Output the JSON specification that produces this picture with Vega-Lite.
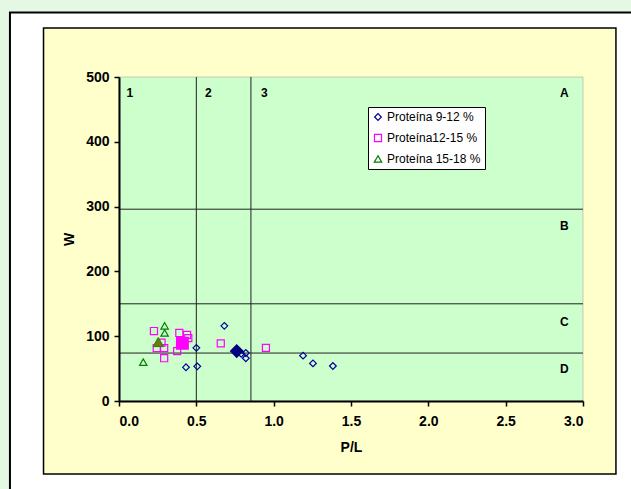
{
  "$schema": "https://vega.github.io/schema/vega-lite/v6.json",
  "width": 464,
  "height": 324,
  "autosize": {"type": "none"},
  "padding": {"left": 119, "top": 77, "right": 48, "bottom": 88},
  "background": "#E4F8E4",
  "config": {
    "view": {"stroke": null},
    "font": "Liberation Sans",
    "axis": {
      "domainColor": "black", "domainWidth": 2, "tickColor": "black", "tickWidth": 1.5, "tickSize": 5,
      "labelFont": "Liberation Sans", "labelFontWeight": "bold", "labelFontSize": 14, "labelColor": "black",
      "titleFont": "Liberation Sans", "titleFontWeight": "bold", "titleFontSize": 14, "titleColor": "black",
      "grid": false, "zindex": 1
    },
    "legend": {
      "fillColor": "white", "strokeColor": "black", "padding": 4,
      "labelFont": "Liberation Sans", "labelFontSize": 12, "labelColor": "black",
      "symbolStrokeWidth": 1.2, "symbolSize": 30, "rowPadding": 9, "labelOffset": 3
    }
  },
  "datasets": {
    "marcos": [{"nombre": "pagina", "x0": -0.705, "x1": 4, "y0": 599.5, "y1": -300},
               {"nombre": "caja", "x0": -0.488, "x1": 3.213, "y0": 575.6, "y1": -112.7},
               {"nombre": "grafico", "x0": 0, "x1": 3, "y0": 500, "y1": 0}],
    "puntos": [
      {"serie": "Proteína 9-12 %", "pl": 0.681, "w": 116},
      {"serie": "Proteína 9-12 %", "pl": 0.5, "w": 82},
      {"serie": "Proteína 9-12 %", "pl": 0.433, "w": 52},
      {"serie": "Proteína 9-12 %", "pl": 0.506, "w": 53.5},
      {"serie": "Proteína 9-12 %", "pl": 0.79, "w": 73},
      {"serie": "Proteína 9-12 %", "pl": 0.82, "w": 74},
      {"serie": "Proteína 9-12 %", "pl": 0.82, "w": 66},
      {"serie": "Proteína 9-12 %", "pl": 1.19, "w": 70},
      {"serie": "Proteína 9-12 %", "pl": 1.254, "w": 58},
      {"serie": "Proteína 9-12 %", "pl": 1.383, "w": 54},
      {"serie": "Proteína12-15 %", "pl": 0.226, "w": 108},
      {"serie": "Proteína12-15 %", "pl": 0.244, "w": 81.5},
      {"serie": "Proteína12-15 %", "pl": 0.275, "w": 90},
      {"serie": "Proteína12-15 %", "pl": 0.292, "w": 81.5},
      {"serie": "Proteína12-15 %", "pl": 0.292, "w": 66},
      {"serie": "Proteína12-15 %", "pl": 0.39, "w": 105},
      {"serie": "Proteína12-15 %", "pl": 0.44, "w": 102},
      {"serie": "Proteína12-15 %", "pl": 0.448, "w": 97},
      {"serie": "Proteína12-15 %", "pl": 0.376, "w": 77},
      {"serie": "Proteína12-15 %", "pl": 0.658, "w": 89},
      {"serie": "Proteína12-15 %", "pl": 0.95, "w": 82},
      {"serie": "Proteína 15-18 %", "pl": 0.295, "w": 116},
      {"serie": "Proteína 15-18 %", "pl": 0.295, "w": 105},
      {"serie": "Proteína 15-18 %", "pl": 0.157, "w": 60}
    ],
    "medias": [
      {"serie": "Proteína 9-12 %", "pl": 0.761, "w": 77},
      {"serie": "Proteína12-15 %", "pl": 0.41, "w": 89},
      {"serie": "Proteína 15-18 %", "pl": 0.254, "w": 91}
    ],
    "verticales": [{"pl": 0.5}, {"pl": 0.853}],
    "horizontales": [{"w": 296}, {"w": 150}, {"w": 74}],
    "zonas": [
      {"etiqueta": "1", "pl": 0.07, "w": 476},
      {"etiqueta": "2", "pl": 0.577, "w": 476},
      {"etiqueta": "3", "pl": 0.94, "w": 476},
      {"etiqueta": "A", "pl": 2.88, "w": 476},
      {"etiqueta": "B", "pl": 2.88, "w": 270},
      {"etiqueta": "C", "pl": 2.88, "w": 122},
      {"etiqueta": "D", "pl": 2.88, "w": 49}
    ]
  },
  "layer": [
    {
      "data": {"name": "marcos"},
      "transform": [{"filter": "datum.nombre == 'pagina'"}],
      "mark": {"type": "rect", "fill": "white", "stroke": "black", "strokeWidth": 2, "clip": false},
      "encoding": {
        "x": {"field": "x0", "type": "quantitative", "scale": {"domain": [0, 3], "nice": false}, "title": "P/L",
              "axis": {"values": [0, 0.5, 1, 1.5, 2, 2.5, 3], "format": ".1f", "labelPadding": 8, "titlePadding": 12, "zindex": 2}},
        "x2": {"field": "x1"},
        "y": {"field": "y0", "type": "quantitative", "scale": {"domain": [0, 500], "nice": false}, "title": "W",
              "axis": {"values": [0, 100, 200, 300, 400, 500], "labelPadding": 5, "titlePadding": 9, "zindex": 2}},
        "y2": {"field": "y1"}
      }
    },
    {
      "data": {"name": "marcos"},
      "transform": [{"filter": "datum.nombre == 'caja'"}],
      "mark": {"type": "rect", "fill": "#FFFFCC", "stroke": "black", "strokeWidth": 1.5, "clip": false},
      "encoding": {
        "x": {"field": "x0", "type": "quantitative", "scale": {"domain": [0, 3], "nice": false}, "title": "P/L"},
        "x2": {"field": "x1"},
        "y": {"field": "y0", "type": "quantitative", "scale": {"domain": [0, 500], "nice": false}, "title": "W"},
        "y2": {"field": "y1"}
      }
    },
    {
      "data": {"name": "marcos"},
      "transform": [{"filter": "datum.nombre == 'grafico'"}],
      "mark": {"type": "rect", "fill": "#CCFFCC", "stroke": "#999999", "strokeWidth": 0.5},
      "encoding": {
        "x": {"field": "x0", "type": "quantitative", "scale": {"domain": [0, 3], "nice": false}, "title": "P/L"},
        "x2": {"field": "x1"},
        "y": {"field": "y0", "type": "quantitative", "scale": {"domain": [0, 500], "nice": false}, "title": "W"},
        "y2": {"field": "y1"}
      }
    },
    {
      "data": {"name": "verticales"},
      "mark": {"type": "rule", "color": "#222222", "strokeWidth": 1},
      "encoding": {
        "x": {"field": "pl", "type": "quantitative", "scale": {"domain": [0, 3], "nice": false}, "title": "P/L"}
      }
    },
    {
      "data": {"name": "horizontales"},
      "mark": {"type": "rule", "color": "#222222", "strokeWidth": 1},
      "encoding": {
        "y": {"field": "w", "type": "quantitative", "scale": {"domain": [0, 500], "nice": false}, "title": "W"}
      }
    },
    {
      "data": {"name": "zonas"},
      "mark": {"type": "text", "font": "Liberation Sans", "fontWeight": "bold", "fontSize": 12, "color": "black", "align": "center", "baseline": "middle"},
      "encoding": {
        "x": {"field": "pl", "type": "quantitative", "scale": {"domain": [0, 3], "nice": false}, "title": "P/L"},
        "y": {"field": "w", "type": "quantitative", "scale": {"domain": [0, 500], "nice": false}, "title": "W"},
        "text": {"field": "etiqueta"}
      }
    },
    {
      "data": {"name": "puntos"},
      "mark": {"type": "point", "filled": false, "strokeWidth": 1.2, "opacity": 1},
      "encoding": {
        "x": {"field": "pl", "type": "quantitative", "scale": {"domain": [0, 3], "nice": false}, "title": "P/L"},
        "y": {"field": "w", "type": "quantitative", "scale": {"domain": [0, 500], "nice": false}, "title": "W"},
        "shape": {"field": "serie", "type": "nominal",
                  "scale": {"domain": ["Proteína 9-12 %", "Proteína12-15 %", "Proteína 15-18 %"], "range": ["diamond", "square", "triangle-up"]},
                  "legend": {"title": null, "orient": "none", "legendX": 249, "legendY": 30}},
        "color": {"field": "serie", "type": "nominal",
                  "scale": {"domain": ["Proteína 9-12 %", "Proteína12-15 %", "Proteína 15-18 %"], "range": ["#000099", "#FF00FF", "#008000"]},
                  "legend": {"title": null, "orient": "none", "legendX": 249, "legendY": 30}},
        "size": {"field": "serie", "type": "nominal",
                 "scale": {"domain": ["Proteína 9-12 %", "Proteína12-15 %", "Proteína 15-18 %"], "range": [45, 55, 42]},
                 "legend": null}
      }
    },
    {
      "data": {"name": "medias"},
      "transform": [{"filter": "datum.serie == 'Proteína 9-12 %'"}],
      "mark": {"type": "point", "shape": "diamond", "filled": true, "fill": "#000080", "stroke": "#000080", "size": 130, "opacity": 1},
      "encoding": {
        "x": {"field": "pl", "type": "quantitative", "scale": {"domain": [0, 3], "nice": false}, "title": "P/L"},
        "y": {"field": "w", "type": "quantitative", "scale": {"domain": [0, 500], "nice": false}, "title": "W"}
      }
    },
    {
      "data": {"name": "medias"},
      "transform": [{"filter": "datum.serie == 'Proteína12-15 %'"}],
      "mark": {"type": "point", "shape": "square", "filled": true, "fill": "#FF00FF", "stroke": "#FF00FF", "size": 120, "opacity": 1},
      "encoding": {
        "x": {"field": "pl", "type": "quantitative", "scale": {"domain": [0, 3], "nice": false}, "title": "P/L"},
        "y": {"field": "w", "type": "quantitative", "scale": {"domain": [0, 500], "nice": false}, "title": "W"}
      }
    },
    {
      "data": {"name": "medias"},
      "transform": [{"filter": "datum.serie == 'Proteína 15-18 %'"}],
      "mark": {"type": "point", "shape": "triangle-up", "filled": true, "fill": "#6E7A10", "stroke": "#2E7D10", "strokeWidth": 1, "size": 110, "opacity": 1},
      "encoding": {
        "x": {"field": "pl", "type": "quantitative", "scale": {"domain": [0, 3], "nice": false}, "title": "P/L"},
        "y": {"field": "w", "type": "quantitative", "scale": {"domain": [0, 500], "nice": false}, "title": "W"}
      }
    }
  ]
}
